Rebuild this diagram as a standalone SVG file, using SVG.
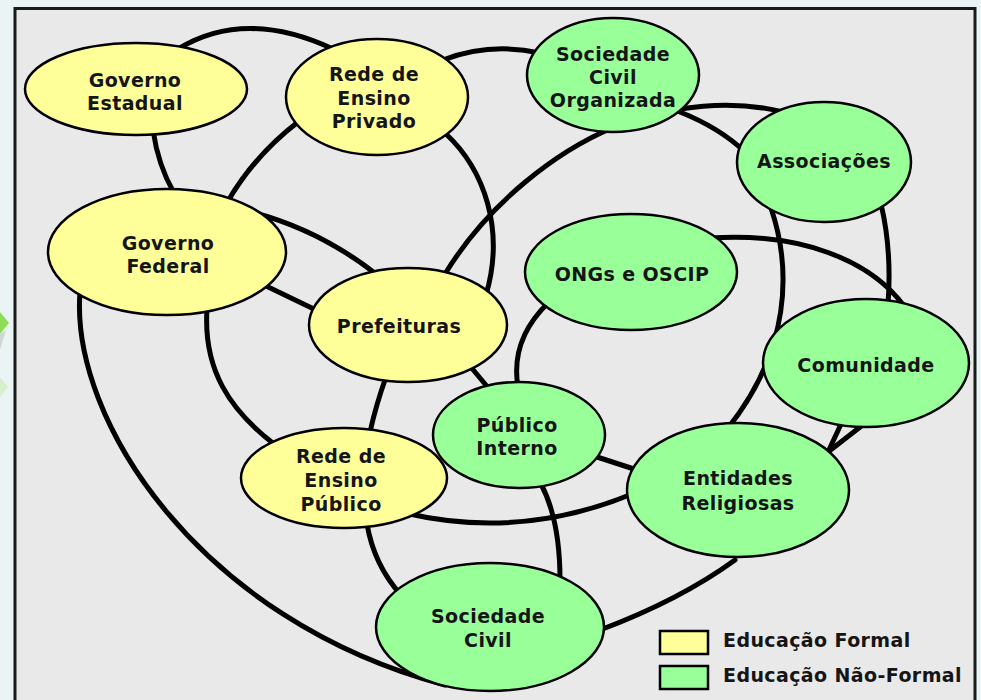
<svg xmlns="http://www.w3.org/2000/svg" width="981" height="700" viewBox="0 0 981 700">
<style>
.edge{fill:none;stroke:#000;stroke-width:5;stroke-linecap:round}
.formal{fill:#ffff99;stroke:#000;stroke-width:2.5}
.naoformal{fill:#99ff99;stroke:#000;stroke-width:2.5}
.lbl{font-family:"DejaVu Sans",Verdana,sans-serif;font-weight:bold;font-size:19px;letter-spacing:0.4px;fill:#151515;text-anchor:middle}
.leg{font-family:"DejaVu Sans",Verdana,sans-serif;font-weight:bold;font-size:19px;letter-spacing:0.4px;fill:#151515}
</style>
<rect x="0" y="0" width="981" height="700" fill="#eaf4f4"/>
<polygon points="0,312 9,323 0,334" fill="#8fdc55"/>
<polygon points="0,334 6,330 0,350" fill="#cfd8d4"/>
<polygon points="0,377 8,387 0,397" fill="#d6efcc"/>
<rect x="15" y="8.5" width="960" height="700" fill="#e9e9e9" stroke="#1a1a1a" stroke-width="3"/>
<g id="connectors">
<path class="edge" d="M178,49 Q245,8 333,49"/>
<path class="edge" d="M153,130 Q158,165 174,193"/>
<path class="edge" d="M298,122 Q255,155 228,201"/>
<path class="edge" d="M443,60 Q490,42 540,53"/>
<path class="edge" d="M445,133 C485,170 505,230 486,295"/>
<path class="edge" d="M612,128 C560,150 490,200 445,274"/>
<path class="edge" d="M680,109 Q735,100 783,112"/>
<path class="edge" d="M680,112 Q720,128 745,152"/>
<path class="edge" d="M771,208 C792,270 790,350 728,428"/>
<path class="edge" d="M881,204 Q892,250 888,304"/>
<path class="edge" d="M710,238 C800,232 870,260 904,306"/>
<path class="edge" d="M548,303 Q510,340 518,387"/>
<path class="edge" d="M252,212 Q320,230 376,274"/>
<path class="edge" d="M264,285 L318,311"/>
<path class="edge" d="M207,309 C203,370 230,410 274,444"/>
<path class="edge" d="M80,292 C70,420 200,620 445,685"/>
<path class="edge" d="M386,377 Q376,405 370,432"/>
<path class="edge" d="M470,366 L490,390"/>
<path class="edge" d="M405,513 Q520,540 632,494"/>
<path class="edge" d="M367,524 Q374,565 401,595"/>
<path class="edge" d="M541,484 Q560,520 560,580"/>
<path class="edge" d="M594,456 L637,470"/>
<path class="edge" d="M600,630 Q680,600 735,560"/>
<path class="edge" d="M842,422 L828,452"/>
<path class="edge" d="M864,424 L828,452"/>
</g>
<g id="governo-estadual">
<ellipse class="formal" cx="136" cy="89" rx="111" ry="46"/>
<text class="lbl" x="135" y="87">Governo</text>
<text class="lbl" x="135" y="110">Estadual</text>
</g>
<g id="rede-ensino-privado">
<ellipse class="formal" cx="377" cy="97" rx="91" ry="58"/>
<text class="lbl" x="374" y="81">Rede de</text>
<text class="lbl" x="374" y="105">Ensino</text>
<text class="lbl" x="374" y="128">Privado</text>
</g>
<g id="sociedade-civil-organizada">
<ellipse class="naoformal" cx="613" cy="75" rx="86" ry="57"/>
<text class="lbl" x="613" y="61">Sociedade</text>
<text class="lbl" x="613" y="84">Civil</text>
<text class="lbl" x="613" y="107">Organizada</text>
</g>
<g id="associacoes">
<ellipse class="naoformal" cx="824" cy="162" rx="87" ry="60"/>
<text class="lbl" x="824" y="168">Associações</text>
</g>
<g id="governo-federal">
<ellipse class="formal" cx="167" cy="252" rx="119" ry="63"/>
<text class="lbl" x="168" y="250">Governo</text>
<text class="lbl" x="168" y="273">Federal</text>
</g>
<g id="prefeituras">
<ellipse class="formal" cx="408" cy="325" rx="99" ry="57"/>
<text class="lbl" x="399" y="333">Prefeituras</text>
</g>
<g id="ongs-oscip">
<ellipse class="naoformal" cx="631" cy="272" rx="106" ry="58"/>
<text class="lbl" x="632" y="281">ONGs e OSCIP</text>
</g>
<g id="comunidade">
<ellipse class="naoformal" cx="866" cy="363" rx="103" ry="64"/>
<text class="lbl" x="866" y="372">Comunidade</text>
</g>
<g id="publico-interno">
<ellipse class="naoformal" cx="519" cy="435" rx="86" ry="53"/>
<text class="lbl" x="517" y="432">Público</text>
<text class="lbl" x="517" y="455">Interno</text>
</g>
<g id="rede-ensino-publico">
<ellipse class="formal" cx="344" cy="478" rx="103" ry="50"/>
<text class="lbl" x="341" y="463">Rede de</text>
<text class="lbl" x="341" y="487">Ensino</text>
<text class="lbl" x="341" y="511">Público</text>
</g>
<g id="entidades-religiosas">
<ellipse class="naoformal" cx="738" cy="490" rx="111" ry="67"/>
<text class="lbl" x="738" y="485">Entidades</text>
<text class="lbl" x="738" y="510">Religiosas</text>
</g>
<g id="sociedade-civil">
<ellipse class="naoformal" cx="490" cy="627" rx="114" ry="64"/>
<text class="lbl" x="488" y="623">Sociedade</text>
<text class="lbl" x="488" y="647">Civil</text>
</g>
<g id="legenda">
<rect class="formal" x="660" y="631" width="48" height="23"/>
<text class="leg" x="723" y="647">Educação Formal</text>
<rect class="naoformal" x="660" y="666" width="48" height="23"/>
<text class="leg" x="723" y="682">Educação Não-Formal</text>
</g>
</svg>
